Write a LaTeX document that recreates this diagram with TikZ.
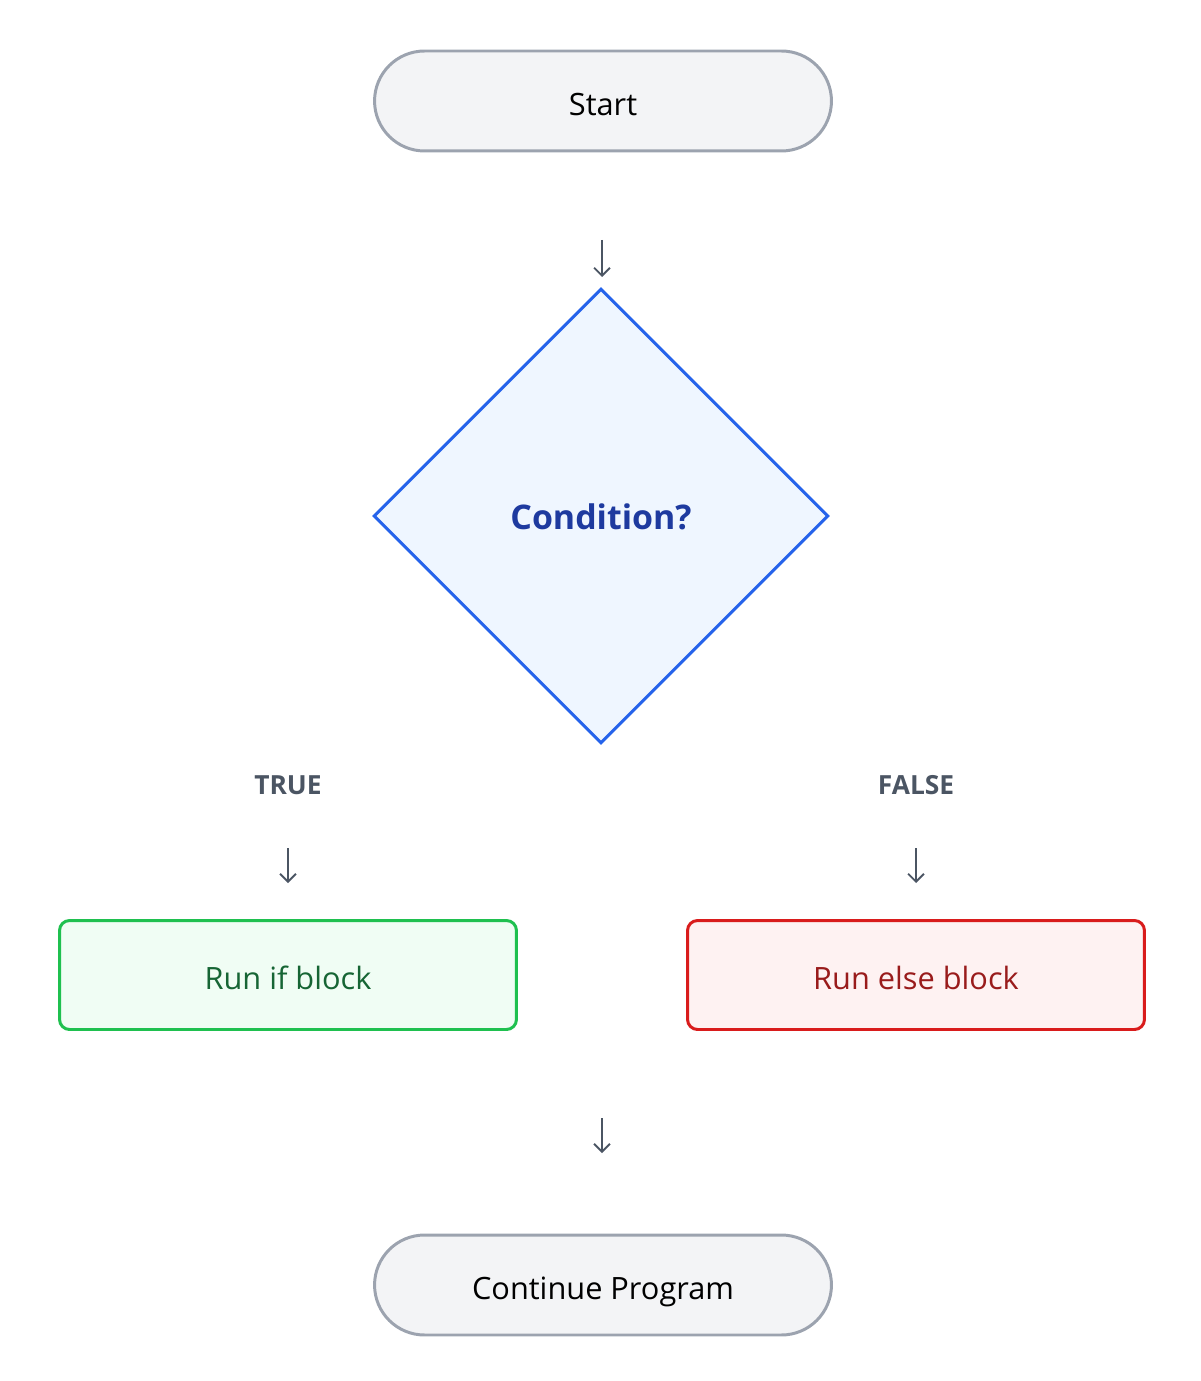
\documentclass[tikz,border=0pt]{standalone}
\usepackage{fontspec}
\setmainfont{Open Sans}
\usetikzlibrary{arrows.meta,shapes.geometric,positioning}

\definecolor{pillfill}{HTML}{F3F4F6}
\definecolor{pillline}{HTML}{9CA3AF}
\definecolor{condfill}{HTML}{EFF6FF}
\definecolor{condline}{HTML}{2563EB}
\definecolor{condtext}{HTML}{1E3A9F}
\definecolor{iffill}{HTML}{F0FDF4}
\definecolor{ifline}{HTML}{1FC04F}
\definecolor{iftext}{HTML}{166534}
\definecolor{elsefill}{HTML}{FEF2F2}
\definecolor{elseline}{HTML}{D91C1C}
\definecolor{elsetext}{HTML}{991B1B}
\definecolor{labgray}{HTML}{4B5563}

\tikzset{
  terminal/.style={draw=pillline,fill=pillfill,line width=1.7pt,rounded corners=1cm,
    minimum width=9.14cm,minimum height=2cm,inner sep=0pt,text height=17pt,text depth=0pt,
    font=\fontsize{17.5}{20}\selectfont},
  decision/.style={diamond,aspect=1,draw=condline,fill=condfill,line width=1.7pt,
    minimum width=9.1cm,minimum height=9.1cm,inner sep=0pt,text=condtext,
    text height=15pt,text depth=0pt,font=\bfseries\fontsize{19.3}{22}\selectfont},
  branch/.style={rounded corners=0.2cm,line width=1.7pt,minimum width=9.14cm,
    minimum height=2.18cm,inner sep=0pt,text height=16pt,text depth=0pt,
    font=\fontsize{17.5}{20}\selectfont},
  tag/.style={text=labgray,font=\bfseries\fontsize{15}{18}\selectfont},
  flow/.style={draw=labgray,line width=1.1pt,-{Straight Barb[length=4.5pt,width=9pt,line width=1.1pt]}}
}

\begin{document}
\begin{tikzpicture}[x=0.02cm,y=-0.02cm]
\useasboundingbox (0,0) rectangle (1200,1381);

\node[terminal] (start) at (603,101) {Start};
\coordinate (a1s) at (602,240);
\coordinate (a1e) at (602,277);
\draw[flow] (a1s) -- (a1e);

\node[decision] (cond) at (601,516) {Condition?};

\node[tag] (true) at (288,785) {TRUE};
\node[tag] (false) at (916,785) {FALSE};
\coordinate (a2s) at (288,848);
\coordinate (a2e) at (288,883);
\coordinate (a3s) at (916,848);
\coordinate (a3e) at (916,883);
\draw[flow] (a2s) -- (a2e);
\draw[flow] (a3s) -- (a3e);

\node[branch,draw=ifline,fill=iffill,text=iftext] (ifblk) at (288,975) {Run if block};
\node[branch,draw=elseline,fill=elsefill,text=elsetext] (elseblk) at (916,975) {Run else block};

\coordinate (a4s) at (602,1118);
\coordinate (a4e) at (602,1153);
\draw[flow] (a4s) -- (a4e);

\node[terminal] (cont) at (603,1285) {Continue Program};
\end{tikzpicture}
\end{document}
